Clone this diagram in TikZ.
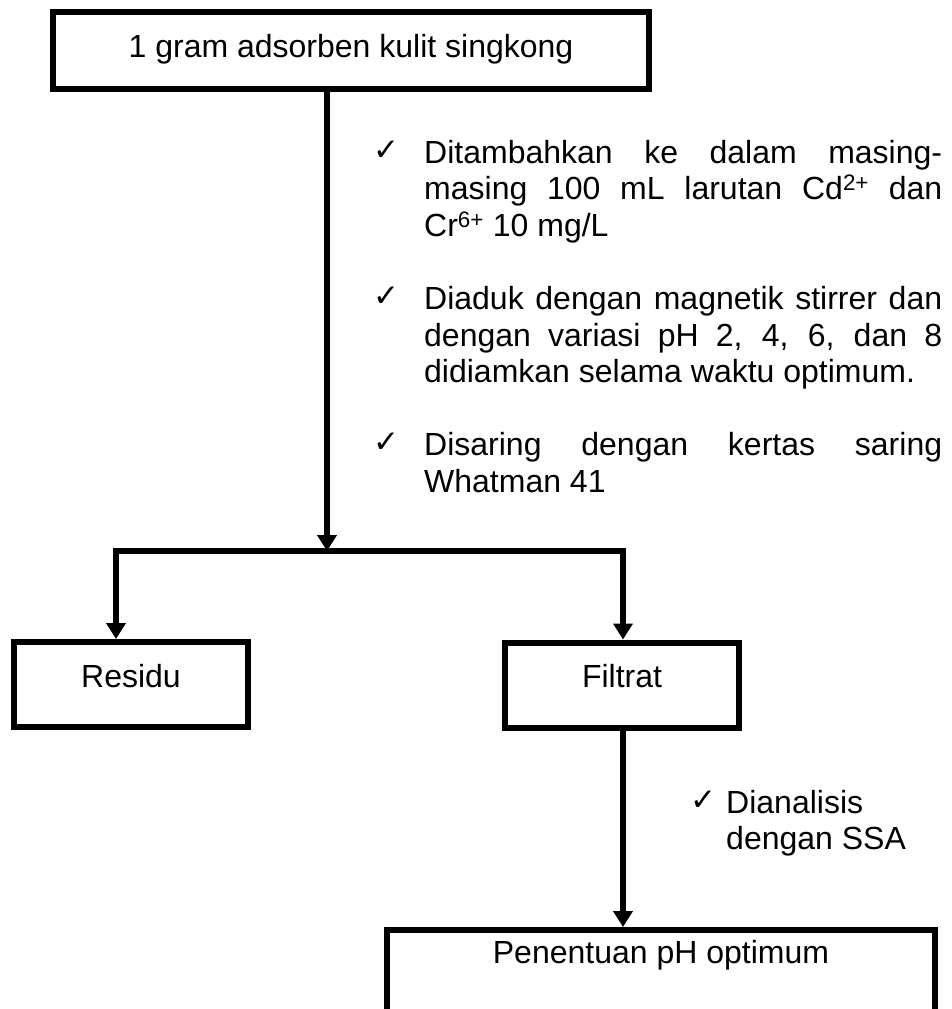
\documentclass[tikz,border=0pt]{standalone}
\usepackage{fontspec}
\setmainfont{Liberation Sans}
\newfontfamily\checkfont{DejaVu Sans}
\usetikzlibrary{arrows.meta}

\newcommand{\jline}[1]{\makebox[518pt][s]{#1}}

\begin{document}
\begin{tikzpicture}[x=1pt, y=-1pt,
        box/.style={draw, line width=6pt, inner sep=0pt, text height=23pt, text depth=18pt, minimum height=85pt, font=\fontsize{32}{38}\selectfont},
        note/.style={anchor=base west, inner sep=0pt, align=left, font=\fontsize{32}{36.6}\selectfont},
        centang/.style={anchor=base west, inner sep=0pt, font=\checkfont\fontsize{31}{31}\selectfont},
        arr/.style={line width=6pt, -{Triangle[width=19pt,length=16pt]}}]
                \clip (0,0) rectangle (952,1009);

                \node[box, minimum width=596pt, minimum height=77pt, text depth=10pt] (A) at (351,50.5) {1 gram adsorben kulit singkong};
                \node[box, minimum width=234pt] (R) at (131,684.5) {Residu};
                \node[box, minimum width=234pt] (F) at (622,685) {Filtrat};
                \node[box, minimum width=548pt, text depth=42pt] (P) at (661,972.5) {Penentuan pH optimum};

                \node[centang] (c1) at (373,160) {✓};
                \node[note] (t1) at (424,236.2) {\jline{Ditambahkan ke dalam masing-}\\ \jline{masing 100 mL larutan Cd\textsuperscript{2+} dan}\\ Cr\textsuperscript{6+} 10 mg/L};
                \node[centang] (c2) at (373,306.4) {✓};
                \node[note] (t2) at (424,382.6) {\jline{Diaduk dengan magnetik stirrer dan}\\ \jline{dengan variasi pH 2, 4, 6, dan 8}\\ didiamkan selama waktu optimum.};
                \node[centang] (c3) at (373,452.8) {✓};
                \node[note] (t3) at (424,492.4) {\jline{Disaring dengan kertas saring}\\ Whatman 41};
                \node[centang] (c4) at (690,810) {✓};
                \node[note, font=\fontsize{32}{36}\selectfont] (t4) at (726,849) {Dianalisis\\ dengan SSA};

                \coordinate (S) at (327,551);
                \coordinate (L) at (116,551);
                \coordinate (K) at (623,551);

                \draw[arr] (A.south -| S) -- (S);
                \draw[arr, {Triangle[width=19pt,length=16pt]}-{Triangle[width=19pt,length=16pt]}] (R.north -| L) -- (L) -- (K) -- (F.north -| K);
                \draw[arr] (F.south -| K) -- (P.north -| K);
            \end{tikzpicture}
\end{document}
